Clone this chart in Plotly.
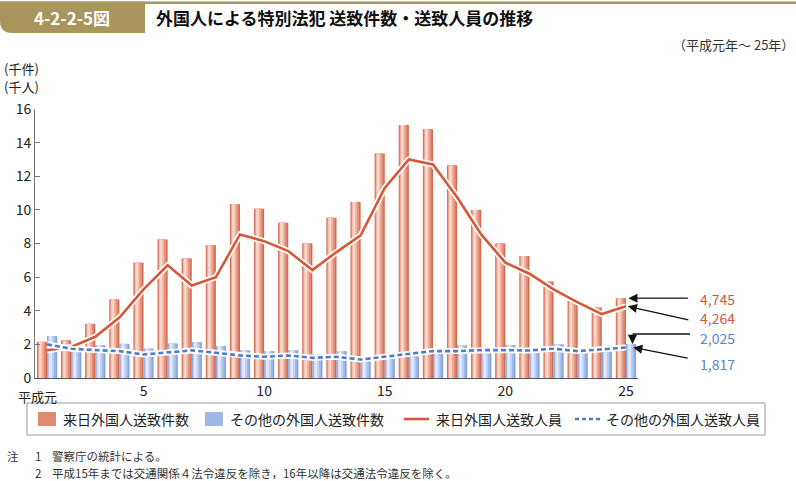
import plotly.graph_objects as go

# ---- data (thousands) ----
years = list(range(1, 26))
tick_vals = [5, 10, 15, 20, 25]
tick_text = ["5", "10", "15", "20", "25"]
first_label = "平成元"
y_ticks = [0, 2, 4, 6, 8, 10, 12, 14, 16]

red_cases = [2.15, 2.23, 3.22, 4.67, 6.86, 8.24, 7.11, 7.89, 10.33, 10.07, 9.24, 8.00, 9.53,
             10.47, 13.36, 15.05, 14.80, 12.65, 10.00, 8.00, 7.25, 5.74, 4.63, 4.20, 4.745]
other_cases = [2.49, 1.95, 1.95, 2.03, 1.74, 2.05, 2.13, 1.90, 1.64, 1.60, 1.66, 1.40, 1.60,
               1.00, 1.16, 1.28, 1.70, 1.93, 1.80, 1.95, 1.60, 2.00, 1.50, 1.60, 2.025]
red_persons = [1.65, 1.85, 2.45, 3.60, 5.27, 6.70, 5.50, 6.00, 8.54, 8.14, 7.55, 6.42, 7.49,
               8.48, 11.30, 13.00, 12.70, 10.75, 8.54, 6.86, 6.20, 5.27, 4.50, 3.80, 4.264]
other_persons = [2.00, 1.74, 1.66, 1.60, 1.40, 1.54, 1.64, 1.50, 1.34, 1.26, 1.34, 1.20, 1.26,
                 1.10, 1.26, 1.40, 1.60, 1.60, 1.66, 1.66, 1.64, 1.74, 1.60, 1.70, 1.817]

series_names = ["来日外国人送致件数", "その他の外国人送致件数", "来日外国人送致人員", "その他の外国人送致人員"]

RED = "#d4583a"
BLUE = "#4f7dcc"
FONT = "Noto Sans CJK JP"

W, H = 796, 481
L, R, T, B = 35, 158, 109, 103
PW, PH = W - L - R, H - T - B


def px(x):
    return (x - L) / PW


def py(y):
    return (H - B - y) / PH


fig = go.Figure()

red_layers = [(-0.42, 0.42, "#d6694d"), (-0.39, 0.33, "#e48c74"),
              (-0.36, 0.22, "#efb09d"), (-0.33, 0.11, "#f8d8cc")]
blue_layers = [(0.0, 0.42, "#84a2dc"), (0.03, 0.33, "#a0b8e7"),
               (0.06, 0.22, "#c1d0f0"), (0.09, 0.11, "#e2e9f8")]

for off, wd, col in red_layers:
    fig.add_trace(go.Bar(x=years, y=red_cases, offset=off, width=wd, marker_color=col,
                         marker_line_width=0, showlegend=False, name=series_names[0],
                         hoverinfo="skip"))
for off, wd, col in blue_layers:
    fig.add_trace(go.Bar(x=years, y=other_cases, offset=off, width=wd, marker_color=col,
                         marker_line_width=0, showlegend=False, name=series_names[1],
                         hoverinfo="skip"))

# white halo lines
fig.add_trace(go.Scatter(x=years, y=red_persons, mode="lines", line=dict(color="white", width=6),
                         showlegend=False, hoverinfo="skip"))
fig.add_trace(go.Scatter(x=years, y=red_persons, mode="lines", line=dict(color=RED, width=2.6),
                         showlegend=False, name=series_names[2]))
fig.add_trace(go.Scatter(x=years, y=other_persons, mode="lines", line=dict(color="white", width=6),
                         showlegend=False, hoverinfo="skip"))
fig.add_trace(go.Scatter(x=years, y=other_persons, mode="lines",
                         line=dict(color=BLUE, width=2.6, dash="5px,3px"),
                         showlegend=False, name=series_names[3]))

fig.update_layout(
    width=W, height=H, margin=dict(l=L, r=R, t=T, b=B),
    paper_bgcolor="white", plot_bgcolor="white", barmode="overlay",
    font=dict(family=FONT, color="#333", size=14),
    xaxis=dict(range=[0.5, 25.5], tickmode="array", tickvals=tick_vals, ticktext=tick_text,
               showgrid=False, zeroline=False, showline=True, linecolor="#555", linewidth=1,
               ticks="", tickfont=dict(size=14, color="#222"), fixedrange=True),
    yaxis=dict(range=[0, 16], tickmode="array", tickvals=y_ticks, showgrid=False, zeroline=False,
               showline=True, linecolor="#777", linewidth=1, ticks="inside", ticklen=5,
               tickcolor="#777", tickfont=dict(size=14, color="#222"), fixedrange=True),
)

shapes = []
ann = []

# title bar
gold = "#a8975c"
shapes.append(dict(type="rect", xref="paper", yref="paper", x0=px(0), x1=px(W), y0=py(4), y1=py(1.5),
                   fillcolor=gold, line_width=0, layer="above"))
x0, x1, y0, y1 = px(0), px(145), py(33), py(1.5)
rx, ry = 12 / PW, 12 / PH
shapes.append(dict(type="path", xref="paper", yref="paper",
                   path=f"M {x0},{y1} L {x1},{y1} L {x1},{y0} L {x0+rx},{y0} Q {x0},{y0} {x0},{y0+ry} Z",
                   fillcolor=gold, line_width=0, layer="above"))
ann.append(dict(text="<b>4-2-2-5図</b>", x=px(72), y=py(18), xref="paper", yref="paper",
                showarrow=False, font=dict(size=17, color="white"), xanchor="center", yanchor="middle"))
ann.append(dict(text="<b>外国人による特別法犯 送致件数・送致人員の推移</b>", x=px(154), y=py(18),
                xref="paper", yref="paper", showarrow=False, font=dict(size=17, color="#111"),
                xanchor="left", yanchor="middle"))
ann.append(dict(text="（平成元年～ 25年）", x=px(796), y=py(45), xref="paper", yref="paper",
                showarrow=False, font=dict(size=13, color="#333"), xanchor="right", yanchor="middle"))
ann.append(dict(text="(千件)", x=px(2), y=py(68), xref="paper", yref="paper", showarrow=False,
                font=dict(size=13, color="#222"), xanchor="left", yanchor="middle"))
ann.append(dict(text="(千人)", x=px(2), y=py(87), xref="paper", yref="paper", showarrow=False,
                font=dict(size=13, color="#222"), xanchor="left", yanchor="middle"))
ann.append(dict(text=first_label, x=px(37), y=py(396), xref="paper", yref="paper", showarrow=False,
                font=dict(size=13, color="#222"), xanchor="center", yanchor="middle"))

# value labels with arrows
labels = [
    (f"{red_cases[-1]*1000:,.0f}", RED, 299, 25.1, red_cases[-1], 61, 0),
    (f"{red_persons[-1]*1000:,.0f}", RED, 318, 25.08, red_persons[-1], 62, 14),
    (f"{other_cases[-1]*1000:,.0f}", "#5b83cf", 338, 25.27, other_cases[-1], 0, -10),
    (f"{other_persons[-1]*1000:,.0f}", "#5b83cf", 364, 25.3, other_persons[-1], 56, 11),
]
for txt, col, ty, hx, hy, axo, ayo in labels:
    ann.append(dict(text=txt, x=px(698), y=py(ty), xref="paper", yref="paper", showarrow=False,
                    font=dict(size=14, color=col), xanchor="left", yanchor="middle"))
    ann.append(dict(text="", x=hx, y=hy, xref="x", yref="y", showarrow=True, ax=axo, ay=ayo,
                    axref="pixel", ayref="pixel", arrowhead=2, arrowsize=1.4, arrowwidth=1.3,
                    arrowcolor="#111", standoff=0))
shapes.append(dict(type="line", xref="paper", yref="paper", x0=px(690), x1=px(632.5),
                   y0=py(334), y1=py(334), line=dict(color="#111", width=1.3)))

# legend box
shapes.append(dict(type="rect", xref="paper", yref="paper", x0=px(27), x1=px(765), y0=py(435), y1=py(403),
                   line=dict(color="#999", width=1), fillcolor="rgba(0,0,0,0)"))
ly = 419
shapes.append(dict(type="rect", xref="paper", yref="paper", x0=px(38), x1=px(56), y0=py(426), y1=py(412),
                   fillcolor="#e08a72", line_width=0))
shapes.append(dict(type="rect", xref="paper", yref="paper", x0=px(205), x1=px(223), y0=py(426), y1=py(412),
                   fillcolor="#9fb6e6", line_width=0))
shapes.append(dict(type="line", xref="paper", yref="paper", x0=px(404), x1=px(429), y0=py(ly), y1=py(ly),
                   line=dict(color=RED, width=2.6)))
shapes.append(dict(type="line", xref="paper", yref="paper", x0=px(575), x1=px(600), y0=py(ly), y1=py(ly),
                   line=dict(color=BLUE, width=2.6, dash="4px,3px")))
for txt, lx in zip(series_names, [61, 228, 434, 604]):
    ann.append(dict(text=txt, x=px(lx), y=py(ly), xref="paper", yref="paper", showarrow=False,
                    font=dict(size=14, color="#222"), xanchor="left", yanchor="middle"))

# notes
notes = [("注", 5, 456), ("1", 33, 456), ("警察庁の統計による。", 50, 456),
         ("2", 33, 473), ("平成15年までは交通関係４法令違反を除き，16年以降は交通法令違反を除く。", 50, 473)]
for txt, nx, ny in notes:
    ann.append(dict(text=txt, x=px(nx), y=py(ny), xref="paper", yref="paper", showarrow=False,
                    font=dict(size=11.5, color="#333"), xanchor="left", yanchor="middle"))

fig.update_layout(shapes=shapes, annotations=ann)
fig.write_html("out.html")
